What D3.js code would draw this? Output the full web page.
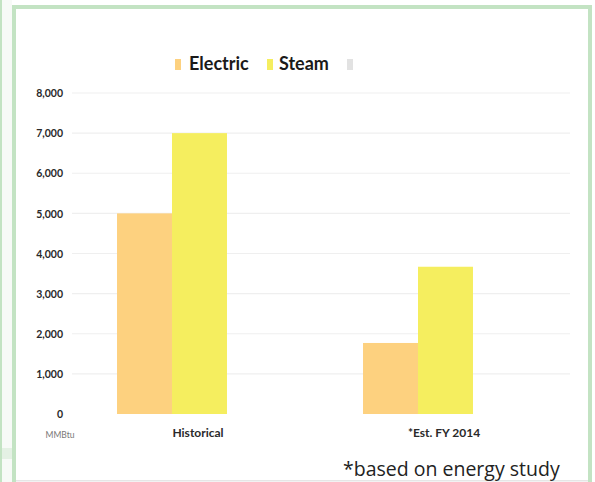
<!DOCTYPE html>
<html><head><meta charset="utf-8">
<script src="https://cdn.jsdelivr.net/npm/d3@7"></script>
<style>
html,body{margin:0;padding:0;background:#fff;}
svg{display:block;}
</style></head>
<body>
<script>
const categories = ["Historical", "*Est. FY 2014"];
const seriesNames = ["Electric", "Steam"];
const electricValues = [5000, 1770];
const steamValues = [7000, 3670];
const yTicks = [0, 1000, 2000, 3000, 4000, 5000, 6000, 7000, 8000];
const unitLabel = "MMBtu";
const footnote = "*based on energy study";

const colors = {Electric: "#fdd17f", Steam: "#f5ee5f"};
const W = 595, H = 482;
const svg = d3.select("body").append("svg").attr("width", W).attr("height", H);

// frame
svg.append("rect").attr("x",0).attr("y",0).attr("width",W).attr("height",H).attr("fill","#fff");
svg.append("rect").attr("x",2).attr("y",0).attr("width",10).attr("height",H).attr("fill","#f7faf7");
svg.append("rect").attr("x",2).attr("y",448).attr("width",10).attr("height",11).attr("fill","#e4f1e4");
svg.append("rect").attr("x",0).attr("y",0).attr("width",2).attr("height",H).attr("fill","#c3e3c3");
svg.append("rect").attr("x",12).attr("y",5).attr("width",4).attr("height",H-5).attr("fill","#c3e3c3");
svg.append("rect").attr("x",12).attr("y",5).attr("width",580).attr("height",4).attr("fill","#c3e3c3");
svg.append("rect").attr("x",588).attr("y",5).attr("width",4).attr("height",H-5).attr("fill","#c3e3c3");
svg.append("rect").attr("x",16).attr("y",480).attr("width",572).attr("height",1.5).attr("fill","#e6e6e6");

const y = d3.scaleLinear().domain([0, 8000]).range([414, 93]);
const x0 = d3.scaleBand().domain(categories).range([49, 541]).paddingInner(0.553).paddingOuter(0.2765);
const x1 = d3.scaleBand().domain(seriesNames).range([0, x0.bandwidth()]);

// gridlines
svg.append("g").selectAll("line").data(yTicks.filter(d => d > 0)).join("line")
  .attr("x1", 72).attr("x2", 570)
  .attr("y1", d => y(d)).attr("y2", d => y(d))
  .attr("stroke", "#efefef").attr("stroke-width", 1.2);

// y axis labels
const yAxis = d3.axisLeft(y).tickValues(yTicks).tickFormat(d3.format(",")).tickSize(0).tickPadding(0);
const ya = svg.append("g").attr("transform", "translate(63,0)").call(yAxis);
ya.select(".domain").remove();
ya.selectAll("text").attr("font-family", "Lato, 'Open Sans', sans-serif").attr("font-weight", "bold")
  .attr("font-size", 10.5).attr("fill", "#2a2a2a").attr("dy", "0.35em");

svg.append("text").attr("x", 60).attr("y", 438).attr("text-anchor", "middle")
  .attr("font-family", "Lato, sans-serif").attr("font-size", 8.5).attr("fill", "#777").text(unitLabel);

// bars
const data = categories.map((c, i) => ({cat: c, vals: [
  {name: "Electric", value: electricValues[i]},
  {name: "Steam", value: steamValues[i]}]}));
const groups = svg.append("g").selectAll("g").data(data).join("g")
  .attr("transform", d => `translate(${x0(d.cat)},0)`);
groups.selectAll("rect").data(d => d.vals).join("rect")
  .attr("x", d => x1(d.name)).attr("width", x1.bandwidth())
  .attr("y", d => y(d.value)).attr("height", d => y(0) - y(d.value))
  .attr("fill", d => colors[d.name]);

// category labels
const xAxis = d3.axisBottom(x0).tickSize(0).tickPadding(0);
const xa = svg.append("g").attr("transform", "translate(26,428)").call(xAxis);
xa.select(".domain").remove();
xa.selectAll("text").attr("font-family", "Lato, 'Open Sans', sans-serif").attr("font-weight", "bold")
  .attr("font-size", 12).attr("fill", "#2a2a2a").attr("dy", "0.71em");

// legend
const legend = svg.append("g").attr("font-family", "Lato, 'Open Sans', sans-serif").attr("font-weight", "bold");
const legendItems = [{name: "Electric", sx: 175, tx: 189}, {name: "Steam", sx: 267, tx: 279}];
legendItems.forEach(it => {
  legend.append("rect").attr("x", it.sx).attr("y", 59).attr("width", 6).attr("height", 11).attr("fill", colors[it.name]);
  legend.append("text").attr("x", it.tx).attr("y", 70).attr("font-size", 18).attr("fill", "#1a1a1a").text(it.name);
});
legend.append("rect").attr("x", 347).attr("y", 59).attr("width", 6).attr("height", 11).attr("fill", "#e2e2e2");

svg.append("text").attr("x", 343).attr("y", 476).attr("font-family", "'Open Sans', sans-serif")
  .attr("font-size", 19.5).attr("fill", "#222").text(footnote);
</script>
</body></html>
